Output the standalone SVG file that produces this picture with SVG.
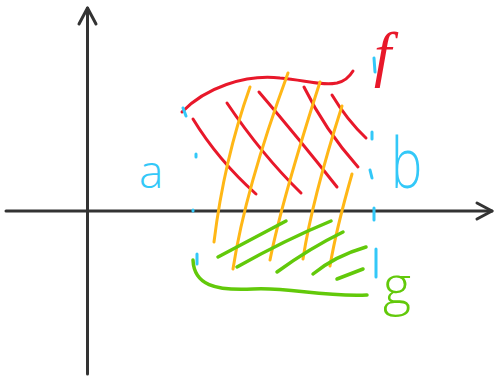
<svg xmlns="http://www.w3.org/2000/svg" width="496" height="380" viewBox="0 0 496 380">
<style>
  .axis{fill:none;stroke:#333333;stroke-width:3;stroke-linecap:round;stroke-linejoin:round}
  .red{fill:none;stroke:#e8182a;stroke-width:3;stroke-linecap:round}
  .yel{fill:none;stroke:#ffb716;stroke-width:3;stroke-linecap:round}
  .grn{fill:none;stroke:#62c90a;stroke-width:3.5;stroke-linecap:round}
  .blu{fill:none;stroke:#33c8f8;stroke-width:3;stroke-linecap:round}
  .lbl{font-family:"Open Sans","Liberation Sans",Arial,sans-serif;font-weight:300}
  .ital{font-family:"Liberation Serif","Times New Roman",serif;font-style:italic}
</style>
<rect width="496" height="380" fill="#ffffff"/>
<g id="axes">
  <path class="axis" d="M87.5,374 L87.5,8"/>
  <path class="axis" d="M79,24 L87.5,8 L96,24"/>
  <path class="axis" d="M6,211 L492,211"/>
  <path class="axis" d="M477,203 L492,211 L477,219"/>
</g>
<g id="connectors">
  <g id="f-curve">
    <path class="red" d="M182,112 C205,88 245,74 280,78 C305,80 320,86 337,83 C346,81 350,76 353,71"/>
  </g>
  <g id="red-hatch">
    <path class="red" d="M193,119 Q218,160 256,194"/>
    <path class="red" d="M227,103 Q262,155 301,193"/>
    <path class="red" d="M259,92 Q300,140 337,187"/>
    <path class="red" d="M304,87 Q325,130 358,167"/>
    <path class="red" d="M332,95 Q347,120 366,138"/>
  </g>
  <g id="yellow-hatch">
    <path class="yel" d="M250,87 Q224,160 214,242"/>
    <path class="yel" d="M288,73 Q245,190 233,269"/>
    <path class="yel" d="M320,82 Q282,200 270,260"/>
    <path class="yel" d="M342,106 Q312,200 303,259"/>
    <path class="yel" d="M352,174 Q336,230 330,266"/>
  </g>
  <g id="g-curve">
    <path class="grn" d="M193,260 C194,285 215,291 253,289 C290,287 320,297 367,295"/>
  </g>
  <g id="green-hatch">
    <path class="grn" d="M218,257 L286,221"/>
    <path class="grn" d="M237,267 Q285,240 331,221"/>
    <path class="grn" d="M277,272 Q310,248 343,232"/>
    <path class="grn" d="M313,274 Q335,256 366,247"/>
    <path class="grn" d="M337,279 L363,269"/>
  </g>
  <g id="bound-a">
    <path class="blu" d="M183,108 L186,116"/>
    <path class="blu" d="M196,154 L196,157"/>
    <path class="blu" d="M193,210 L193,211"/>
    <path class="blu" d="M197,254 L197,264"/>
  </g>
  <g id="bound-b">
    <path class="blu" d="M374,58 L375,72"/>
    <path class="blu" d="M372,132 L372,139"/>
    <path class="blu" d="M370,170 L372,178"/>
    <path class="blu" d="M374,208 L374,220"/>
    <path class="blu" d="M376,249 L376,277"/>
  </g>
</g>
<g id="label-a"><text class="lbl" x="139" y="188" font-size="46" fill="#33c8f8">a</text></g>
<g id="label-b"><text class="lbl" transform="translate(391,188) scale(0.75,1)" font-size="70" fill="#33c8f8">b</text></g>
<g id="label-f"><text class="ital" x="374" y="75" font-size="62" fill="#e8182a">f</text></g>
<g id="label-g"><text class="lbl" x="383" y="304" font-size="54" fill="#62c90a">g</text></g>
</svg>
